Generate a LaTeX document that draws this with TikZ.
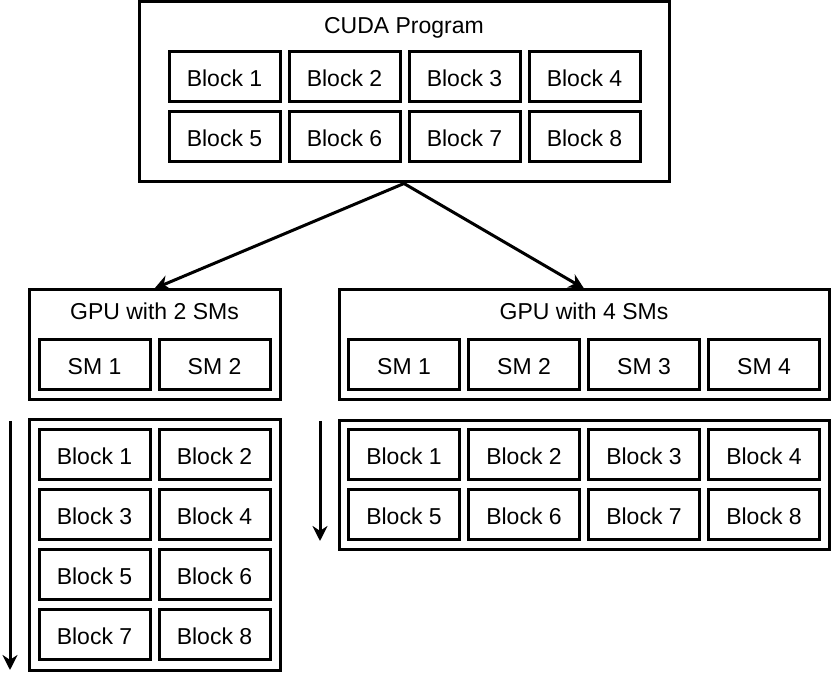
\documentclass[tikz,border=0pt]{standalone}
\usepackage{fontspec}
\setmainfont{Liberation Sans}
\usetikzlibrary{arrows.meta, positioning}

\tikzset{
  frame/.style={draw, inner sep=0pt},
  blk/.style={draw, inner sep=0pt, minimum width=55.5pt, minimum height=25pt,
    text height=9.7pt, text depth=0pt, font=\fontsize{11.5}{13}\selectfont},
  ttl/.style={inner sep=0pt, anchor=base, font=\fontsize{11.5}{13}\selectfont}
}

\begin{document}
\begin{tikzpicture}[>={Stealth[length=7.5pt, width=7.5pt]}, x=0.5pt, y=-0.5pt, line width=1.5pt]
    \useasboundingbox (0,0) rectangle (832,684);

    % CUDA program with its eight blocks
    \node[frame, minimum width=265pt, minimum height=90pt] (prog) at (404,92) {};
    \node[ttl] (progtitle) at (404,34) {CUDA Program};
    \node[blk] (p1) at (224.5,77) {Block 1};
    \node[blk] (p2) at (344.5,77) {Block 2};
    \node[blk] (p3) at (464.5,77) {Block 3};
    \node[blk] (p4) at (584.5,77) {Block 4};
    \node[blk] (p5) at (224.5,137) {Block 5};
    \node[blk] (p6) at (344.5,137) {Block 6};
    \node[blk] (p7) at (464.5,137) {Block 7};
    \node[blk] (p8) at (584.5,137) {Block 8};

    % GPU with 2 SMs
    \node[frame, minimum width=125.5pt, minimum height=55pt] (gputwo) at (154.5,345) {};
    \node[ttl] (gputwotitle) at (154.5,320) {GPU with 2 SMs};
    \node[blk] (ta) at (94.5,365) {SM 1};
    \node[blk] (tb) at (214.5,365) {SM 2};

    % GPU with 4 SMs
    \node[frame, minimum width=245pt, minimum height=55pt] (gpufour) at (584,345) {};
    \node[ttl] (gpufourtitle) at (584,320) {GPU with 4 SMs};
    \node[blk] (fa) at (404,365) {SM 1};
    \node[blk] (fb) at (524,365) {SM 2};
    \node[blk] (fc) at (644,365) {SM 3};
    \node[blk] (fd) at (764,365) {SM 4};

    % Blocks run on 2 SMs
    \node[frame, minimum width=125.5pt, minimum height=125.5pt] (runtwo) at (154.5,545.5) {};
    \node[blk] (t1) at (94.5,455) {Block 1};
    \node[blk] (t2) at (214.5,455) {Block 2};
    \node[blk] (t3) at (94.5,515) {Block 3};
    \node[blk] (t4) at (214.5,515) {Block 4};
    \node[blk] (t5) at (94.5,575) {Block 5};
    \node[blk] (t6) at (214.5,575) {Block 6};
    \node[blk] (t7) at (94.5,635) {Block 7};
    \node[blk] (t8) at (214.5,635) {Block 8};

    % Blocks run on 4 SMs
    \node[frame, minimum width=245pt, minimum height=64.5pt] (runfour) at (584,485.5) {};
    \node[blk] (f1) at (404,455) {Block 1};
    \node[blk] (f2) at (524,455) {Block 2};
    \node[blk] (f3) at (644,455) {Block 3};
    \node[blk] (f4) at (764,455) {Block 4};
    \node[blk] (f5) at (404,515) {Block 5};
    \node[blk] (f6) at (524,515) {Block 6};
    \node[blk] (f7) at (644,515) {Block 7};
    \node[blk] (f8) at (764,515) {Block 8};

    % Program mapped onto both GPUs
    \draw[->] (prog.south) -- (gputwo.north);
    \draw[->] (prog.south) -- (gpufour.north);

    % Time arrows
    \coordinate (timetwotop) at (10,421);
    \coordinate (timetwoend) at (10,670);
    \coordinate (timefourtop) at (320,421);
    \coordinate (timefourend) at (320,541);
    \draw[->] (timetwotop) -- (timetwoend);
    \draw[->] (timefourtop) -- (timefourend);

\end{tikzpicture}
\end{document}
